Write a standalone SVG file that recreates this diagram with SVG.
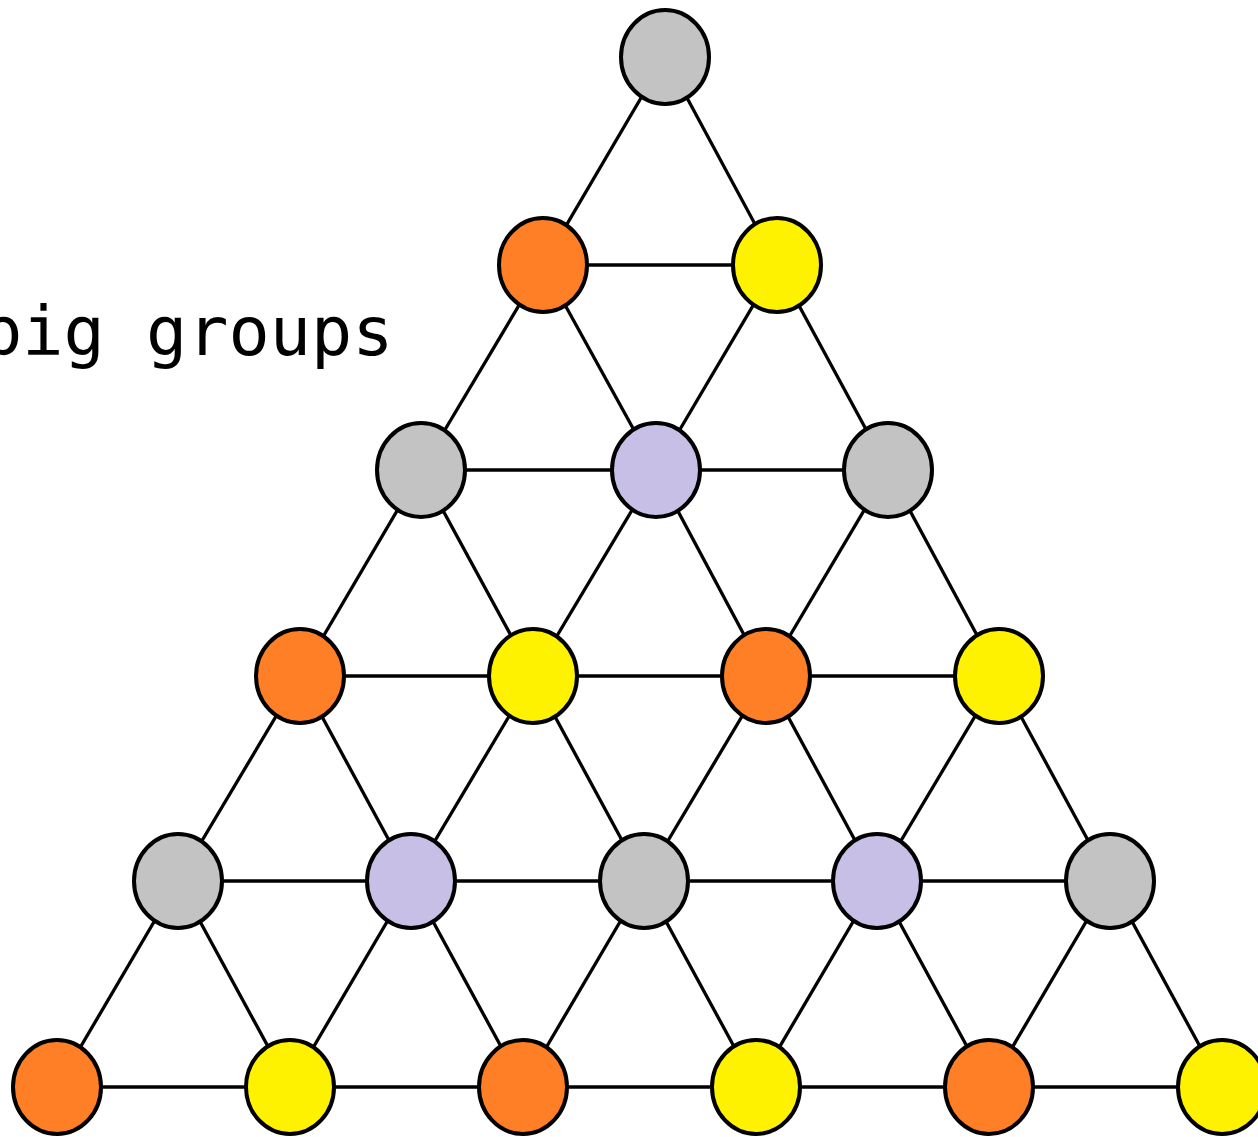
<svg xmlns="http://www.w3.org/2000/svg" width="1258" height="1137" viewBox="0 0 1258 1137">
<style>
.e{stroke:#000;stroke-width:3.3;fill:none}
.n{stroke:#000;stroke-width:4}
.g{fill:#c3c3c3}.o{fill:#ff7f27}.y{fill:#fff200}.l{fill:#c8bfe7}
.t{font-family:"DejaVu Sans Mono","Liberation Mono",monospace;font-size:68.5px;fill:#000}
</style>
<rect width="1258" height="1137" fill="#fff"/>
<text class="t" x="-19" y="355">big groups</text>
<g id="connectors">
<line class="e" x1="665" y1="57" x2="543" y2="265"/><line class="e" x1="665" y1="57" x2="777" y2="265"/>
<line class="e" x1="543" y1="265" x2="777" y2="265"/>
<line class="e" x1="543" y1="265" x2="421" y2="470"/><line class="e" x1="543" y1="265" x2="656" y2="470"/>
<line class="e" x1="777" y1="265" x2="656" y2="470"/><line class="e" x1="777" y1="265" x2="888" y2="470"/>
<line class="e" x1="421" y1="470" x2="888" y2="470"/>
<line class="e" x1="421" y1="470" x2="300" y2="676"/><line class="e" x1="421" y1="470" x2="533" y2="676"/>
<line class="e" x1="656" y1="470" x2="533" y2="676"/><line class="e" x1="656" y1="470" x2="766" y2="676"/>
<line class="e" x1="888" y1="470" x2="766" y2="676"/><line class="e" x1="888" y1="470" x2="999" y2="676"/>
<line class="e" x1="300" y1="676" x2="999" y2="676"/>
<line class="e" x1="300" y1="676" x2="178" y2="881"/><line class="e" x1="300" y1="676" x2="411" y2="881"/>
<line class="e" x1="533" y1="676" x2="411" y2="881"/><line class="e" x1="533" y1="676" x2="644" y2="881"/>
<line class="e" x1="766" y1="676" x2="644" y2="881"/><line class="e" x1="766" y1="676" x2="877" y2="881"/>
<line class="e" x1="999" y1="676" x2="877" y2="881"/><line class="e" x1="999" y1="676" x2="1110" y2="881"/>
<line class="e" x1="178" y1="881" x2="1110" y2="881"/>
<line class="e" x1="178" y1="881" x2="57" y2="1087"/><line class="e" x1="178" y1="881" x2="290" y2="1087"/>
<line class="e" x1="411" y1="881" x2="290" y2="1087"/><line class="e" x1="411" y1="881" x2="523" y2="1087"/>
<line class="e" x1="644" y1="881" x2="523" y2="1087"/><line class="e" x1="644" y1="881" x2="756" y2="1087"/>
<line class="e" x1="877" y1="881" x2="756" y2="1087"/><line class="e" x1="877" y1="881" x2="989" y2="1087"/>
<line class="e" x1="1110" y1="881" x2="989" y2="1087"/><line class="e" x1="1110" y1="881" x2="1222" y2="1087"/>
<line class="e" x1="57" y1="1087" x2="1222" y2="1087"/>
</g>
<g id="n0"><ellipse class="n g" cx="665" cy="57" rx="44" ry="47"/></g>
<g id="n1"><ellipse class="n o" cx="543" cy="265" rx="44" ry="47"/></g>
<g id="n2"><ellipse class="n y" cx="777" cy="265" rx="44" ry="47"/></g>
<g id="n3"><ellipse class="n g" cx="421" cy="470" rx="44" ry="47"/></g>
<g id="n4"><ellipse class="n l" cx="656" cy="470" rx="44" ry="47"/></g>
<g id="n5"><ellipse class="n g" cx="888" cy="470" rx="44" ry="47"/></g>
<g id="n6"><ellipse class="n o" cx="300" cy="676" rx="44" ry="47"/></g>
<g id="n7"><ellipse class="n y" cx="533" cy="676" rx="44" ry="47"/></g>
<g id="n8"><ellipse class="n o" cx="766" cy="676" rx="44" ry="47"/></g>
<g id="n9"><ellipse class="n y" cx="999" cy="676" rx="44" ry="47"/></g>
<g id="n10"><ellipse class="n g" cx="178" cy="881" rx="44" ry="47"/></g>
<g id="n11"><ellipse class="n l" cx="411" cy="881" rx="44" ry="47"/></g>
<g id="n12"><ellipse class="n g" cx="644" cy="881" rx="44" ry="47"/></g>
<g id="n13"><ellipse class="n l" cx="877" cy="881" rx="44" ry="47"/></g>
<g id="n14"><ellipse class="n g" cx="1110" cy="881" rx="44" ry="47"/></g>
<g id="n15"><ellipse class="n o" cx="57" cy="1087" rx="44" ry="47"/></g>
<g id="n16"><ellipse class="n y" cx="290" cy="1087" rx="44" ry="47"/></g>
<g id="n17"><ellipse class="n o" cx="523" cy="1087" rx="44" ry="47"/></g>
<g id="n18"><ellipse class="n y" cx="756" cy="1087" rx="44" ry="47"/></g>
<g id="n19"><ellipse class="n o" cx="989" cy="1087" rx="44" ry="47"/></g>
<g id="n20"><ellipse class="n y" cx="1222" cy="1087" rx="44" ry="47"/></g>
</svg>
